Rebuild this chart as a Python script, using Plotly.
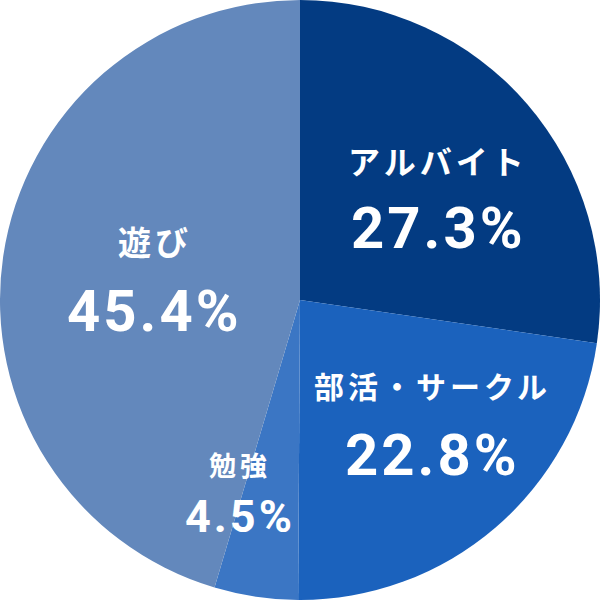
import math
import plotly.graph_objects as go

labels = ["アルバイト", "部活・サークル", "勉強", "遊び"]
values = [27.3, 22.8, 4.5, 45.4]
colors = ["#033b82", "#1b62bd", "#3b76c4", "#6388bc"]

# label placement styling (radius in px from centre, angle nudge in degrees)
label_radius = [174, 179, 200, 147]
angle_nudge = [3.4, -7.3, 8.9, 1.0]
label_size = [32, 30, 27, 33]
pct_size = [58, 58, 45, 58]
line_gap = [34, 35, 26, 35]

W = H = 600

fig = go.Figure(go.Pie(
    labels=labels, values=values, sort=False, direction="clockwise", rotation=0,
    marker=dict(colors=colors, line=dict(width=0)),
    textinfo="none", hoverinfo="label+percent", showlegend=False,
    domain=dict(x=[0, 1], y=[0, 1]),
))

total = sum(values)
cum = 0
annotations = []
for i, (lab, v) in enumerate(zip(labels, values)):
    mid = (cum + v / 2) / total * 360 + angle_nudge[i]
    cum += v
    th = math.radians(mid)
    x = 0.5 + label_radius[i] * math.sin(th) / W
    y = 0.5 + label_radius[i] * math.cos(th) / H
    annotations.append(dict(
        x=x, y=y, xref="paper", yref="paper", showarrow=False,
        xanchor="center", yanchor="middle", yshift=line_gap[i],
        text=f"<span style='letter-spacing:4px'><b>{lab}</b></span>",
        font=dict(family="Noto Sans CJK JP", size=label_size[i], color="white"),
    ))
    annotations.append(dict(
        x=x, y=y, xref="paper", yref="paper", showarrow=False,
        xanchor="center", yanchor="middle", yshift=-line_gap[i],
        text=f"<span style='letter-spacing:3px'><b>{v}%</b></span>",
        font=dict(family="Roboto", size=pct_size[i], color="white"),
    ))

fig.update_layout(
    width=W, height=H, margin=dict(l=0, r=0, t=0, b=0),
    paper_bgcolor="white", plot_bgcolor="white",
    annotations=annotations,
)
fig.write_html("out.html", config={"displayModeBar": False},
               post_script="document.body.style.margin='0';")
